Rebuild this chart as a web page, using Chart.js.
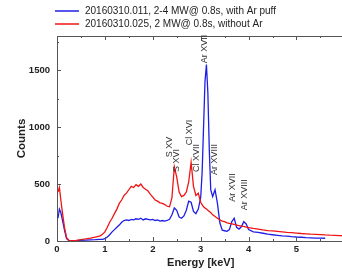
<!DOCTYPE html>
<html>
<head>
<meta charset="utf-8">
<script src="https://cdn.jsdelivr.net/npm/chart.js@4/dist/chart.umd.min.js"></script>
<style>
  html, body { margin: 0; padding: 0; background: #fff; overflow: hidden; }
  canvas { display: block; }
</style>
</head>
<body>
<canvas id="spectrum" width="350" height="272"></canvas>
<script>
// energy grid [keV], shared by both spectra
const energy = [
    0.02, 0.05, 0.08, 0.12, 0.16, 0.20, 0.25, 0.30, 0.40, 0.50,
    0.60, 0.70, 0.80, 0.90, 0.95, 1.00, 1.05, 1.10, 1.15, 1.20,
    1.25, 1.30, 1.35, 1.40, 1.45, 1.50, 1.55, 1.60, 1.65, 1.70,
    1.75, 1.80, 1.85, 1.90, 1.95, 2.00, 2.05, 2.10, 2.15, 2.20,
    2.25, 2.30, 2.35, 2.40, 2.45, 2.50, 2.55, 2.60, 2.65, 2.70,
    2.75, 2.80, 2.85, 2.90, 2.95, 3.00, 3.03, 3.06, 3.09, 3.12,
    3.15, 3.18, 3.21, 3.25, 3.30, 3.35, 3.40, 3.45, 3.50, 3.55,
    3.60, 3.65, 3.70, 3.75, 3.80, 3.85, 3.90, 3.95, 4.00, 4.10,
    4.20, 4.30, 4.40, 4.50, 4.60, 4.70, 4.80, 4.90, 5.00, 5.10,
    5.20, 5.30, 5.40, 5.50, 5.60, 5.70, 5.80, 5.90, 6.00
];

// 20160310.011, with Ar puff
const countsArPuff = [
    200, 280, 250, 170, 90, 20, 3, 0, 3, 6,
    8, 10, 12, 15, 15, 20, 35, 55, 80, 100,
    120, 140, 165, 180, 185, 180, 190, 185, 195, 190,
    200, 185, 195, 190, 185, 190, 180, 185, 175, 180,
    175, 180, 190, 230, 290, 270, 210, 200, 220, 270,
    350, 340, 260, 240, 280, 380, 600, 1000, 1400, 1550,
    1300, 800, 450, 390, 450, 330, 160, 95, 90, 85,
    100, 170, 200, 120, 105, 125, 170, 150, 100, 80,
    75, 68, 60, 55, 50, 45, 42, 38, 35, 33,
    30, 28, 26, 25, 24, null, null, null, null
];

// 20160310.025, without Ar
const countsNoAr = [
    430, 470, 360, 230, 110, 30, 5, 0, 5, 12,
    18, 25, 35, 45, 60, 80, 120, 165, 200, 240,
    280, 330, 360, 400, 420, 450, 480, 470, 495, 480,
    500, 470, 455, 440, 410, 385, 360, 350, 335, 330,
    320, 305, 300, 380, 650, 560, 430, 390, 400, 430,
    520, 690, 480, 400, 420, 340, 320, 300, 290, 280,
    270, 260, 250, 230, 215, 200, 185, 175, 170, 160,
    155, 150, 145, 140, 135, 130, 128, 122, 118, 110,
    105, 98, 92, 88, 84, 80, 76, 73, 70, 66,
    63, 60, 58, 56, 53, 51, 50, 48, 46
];

const seriesNames = [
    "20160310.011, 2-4 MW@ 0.8s, with Ar puff",
    "20160310.025, 2 MW@ 0.8s, without Ar"
];

const xTicks = [0, 1, 2, 3, 4, 5, 6];
const yTicks = [0, 500, 1000, 1500];

// line identifications: text, energy and counts where the label starts
const lineLabels = ["S XV", "S XVI", "Cl XVI", "Cl XVII", "Ar XVII", "Ar XVIII", "Ar XVII", "Ar XVIII"];
const lineEnergy = [2.35, 2.50, 2.77, 2.92, 3.08, 3.29, 3.67, 3.92];
const lineCounts = [735, 605, 840, 605, 1560, 580, 345, 270];

const blue = "rgb(30,30,230)";
const red = "rgb(240,20,20)";
const axisColor = "#555";
const textColor = "#222";

function points(ys) {
    var pts = [];
    for (var i = 0; i < energy.length; i++) {
        pts.push({ x: energy[i], y: ys[i] });
    }
    return pts;
}

const decorations = {
    id: "decorations",
    afterDraw(chart) {
        const ctx = chart.ctx;
        const area = chart.chartArea;
        const xs = chart.scales.x;
        const ys = chart.scales.y;
        ctx.save();

        // top frame line
        ctx.strokeStyle = axisColor;
        ctx.lineWidth = 1;
        ctx.beginPath();
        ctx.moveTo(area.left, area.top + 0.5);
        ctx.lineTo(area.right, area.top + 0.5);
        ctx.stroke();

        // inward tick marks
        ctx.beginPath();
        for (var v = 0; v <= 6; v += 0.5) {
            var px = Math.round(xs.getPixelForValue(v)) + 0.5;
            var len = Number.isInteger(v) ? 4 : 2;
            ctx.moveTo(px, area.bottom);
            ctx.lineTo(px, area.bottom - len);
            ctx.moveTo(px, area.top);
            ctx.lineTo(px, area.top + len);
        }
        for (var c = 0; c <= 1750; c += 250) {
            var py = Math.round(ys.getPixelForValue(c)) + 0.5;
            var l = (c % 500 === 0) ? 4 : 2;
            ctx.moveTo(area.left, py);
            ctx.lineTo(area.left + l, py);
        }
        ctx.stroke();

        // line identifications
        ctx.fillStyle = "#333";
        ctx.font = "9px 'Liberation Sans', Arial, sans-serif";
        ctx.textAlign = "left";
        ctx.textBaseline = "middle";
        for (var i = 0; i < lineLabels.length; i++) {
            ctx.save();
            ctx.translate(xs.getPixelForValue(lineEnergy[i]), ys.getPixelForValue(lineCounts[i]));
            ctx.rotate(-Math.PI / 2);
            ctx.fillText(lineLabels[i], 0, 0);
            ctx.restore();
        }

        // legend
        const colors = [blue, red];
        ctx.font = "10px 'Liberation Sans', Arial, sans-serif";
        ctx.fillStyle = textColor;
        for (var k = 0; k < seriesNames.length; k++) {
            var ly = 11 + k * 13;
            ctx.strokeStyle = colors[k];
            ctx.lineWidth = 1.5;
            ctx.beginPath();
            ctx.moveTo(55, ly);
            ctx.lineTo(79, ly);
            ctx.stroke();
            ctx.fillText(seriesNames[k], 85, ly);
        }
        ctx.restore();
    }
};

new Chart(document.getElementById("spectrum").getContext("2d"), {
    type: "line",
    data: {
        datasets: [
            {
                label: seriesNames[1],
                data: points(countsNoAr),
                borderColor: red,
                borderWidth: 1.3,
                pointRadius: 0,
                tension: 0
            },
            {
                label: seriesNames[0],
                data: points(countsArPuff),
                borderColor: blue,
                borderWidth: 1.3,
                pointRadius: 0,
                tension: 0
            }
        ]
    },
    options: {
        responsive: false,
        animation: false,
        layout: { padding: { top: 36, right: 5, left: 0, bottom: 0 } },
        plugins: {
            legend: { display: false },
            tooltip: { enabled: false }
        },
        scales: {
            x: {
                type: "linear",
                min: 0,
                max: 6,
                afterBuildTicks: function (scale) {
                    scale.ticks = xTicks.map(function (v) { return { value: v }; });
                },
                afterFit: function (scale) { scale.height = 31; },
                grid: { display: false, drawTicks: false },
                border: { display: true, color: axisColor },
                ticks: {
                    color: textColor,
                    padding: 3,
                    maxRotation: 0,
                    font: { family: "'Liberation Sans', Arial", size: 9.5, weight: "bold" }
                },
                title: {
                    display: true,
                    text: "Energy [keV]",
                    color: textColor,
                    padding: { top: 0, bottom: 2 },
                    font: { family: "'Liberation Sans', Arial", size: 11, weight: "bold" }
                }
            },
            y: {
                min: 0,
                max: 1800,
                afterBuildTicks: function (scale) {
                    scale.ticks = yTicks.map(function (v) { return { value: v }; });
                },
                afterFit: function (scale) { scale.width = 57; },
                grid: { display: false, drawTicks: false },
                border: { display: true, color: axisColor },
                ticks: {
                    color: textColor,
                    padding: 7,
                    callback: function (v) { return String(v); },
                    font: { family: "'Liberation Sans', Arial", size: 9.5, weight: "bold" }
                },
                title: {
                    display: true,
                    text: "Counts",
                    color: textColor,
                    padding: { top: 15, bottom: 0 },
                    font: { family: "'Liberation Sans', Arial", size: 11.5, weight: "bold" }
                }
            }
        }
    },
    plugins: [decorations]
});
</script>
</body>
</html>
